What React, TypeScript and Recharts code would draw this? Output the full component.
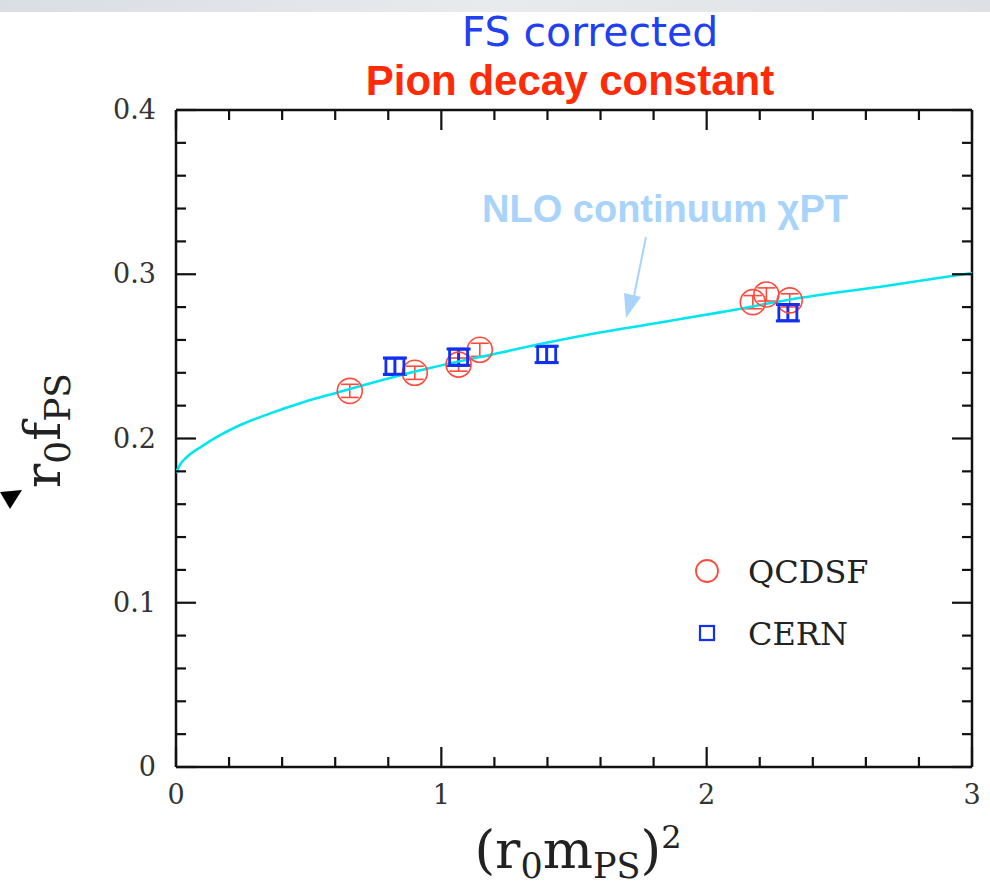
import React from "react";
import {
  ScatterChart,
  Scatter,
  XAxis,
  YAxis,
  ErrorBar,
  ReferenceLine,
  Legend,
} from "recharts";

// ---- data ----
const QCDSF_X = [0.655, 0.9, 1.065, 1.145, 2.174, 2.225, 2.313];
const QCDSF_Y = [0.229, 0.24, 0.245, 0.254, 0.283, 0.2877, 0.2841];
const QCDSF_ERR = [0.004, 0.004, 0.004, 0.004, 0.004, 0.004, 0.004];

const CERN_X = [0.825, 1.065, 1.397, 2.306];
const CERN_Y = [0.244, 0.2495, 0.2512, 0.2766];
const CERN_ERR = [0.005, 0.005, 0.005, 0.005];

// NLO continuum chiral fit curve
const CURVE_X = [0, 0.005, 0.015, 0.04, 0.1, 0.166, 0.23, 0.35, 0.48, 0.6, 0.89, 1.2, 1.5, 1.82, 2.05, 2.36, 2.68, 3.0];
const CURVE_Y = [0.179, 0.181, 0.184, 0.1886, 0.1955, 0.202, 0.2073, 0.215, 0.2221, 0.2276, 0.2403, 0.2515, 0.2616, 0.2705, 0.2768, 0.2858, 0.293, 0.3008];

const X_TICKS = [0, 0.2, 0.4, 0.6, 0.8, 1, 1.2, 1.4, 1.6, 1.8, 2, 2.2, 2.4, 2.6, 2.8, 3];
const Y_TICKS = [0, 0.02, 0.04, 0.06, 0.08, 0.1, 0.12, 0.14, 0.16, 0.18, 0.2, 0.22, 0.24, 0.26, 0.28, 0.3, 0.32, 0.34, 0.36, 0.38, 0.4];
const X_LABELS = ["0", "1", "2", "3"];
const Y_LABELS = ["0", "0.1", "0.2", "0.3", "0.4"];
const SERIES_ORDER = ["QCDSF", "CERN"];

const qcdsf = QCDSF_X.map((x, i) => ({ x, y: QCDSF_Y[i], err: QCDSF_ERR[i] }));
const cern = CERN_X.map((x, i) => ({ x, y: CERN_Y[i], err: CERN_ERR[i] }));
const curve = CURVE_X.map((x, i) => ({ x, y: CURVE_Y[i] }));

// ---- layout ----
const W = 990;
const H = 890;
const MARGIN = { top: 110, right: 18, bottom: 0, left: 0 };
const Y_AXIS_W = 176;
const X_AXIS_H = 123;
const PLOT_W = W - MARGIN.left - MARGIN.right - Y_AXIS_W;
const PLOT_H = H - MARGIN.top - MARGIN.bottom - X_AXIS_H;
const TICK_GAP_X = 16;
const TICK_GAP_Y = 18;
const MAJOR = 20;
const MINOR = 10;

const RED = "#ff4a3c";
const BLUE = "#1230f0";
const CYAN = "#00e6f0";
const FRAME = "#111";
const SERIF = "'DejaVu Serif', serif";

const isMajorX = (v: number) => Math.abs(v - Math.round(v)) < 1e-6;
const isMajorY = (v: number) => Math.abs(v * 10 - Math.round(v * 10)) < 1e-6;

const XTick = (props: any) => {
  const { x, y, payload } = props;
  const v = payload.value as number;
  const major = isMajorX(v);
  const len = major ? MAJOR : MINOR;
  const axisY = y - TICK_GAP_X;
  const topY = axisY - PLOT_H;
  const label = major ? X_LABELS[Math.round(v)] : null;
  return (
    <g>
      <line x1={x} x2={x} y1={axisY} y2={axisY - len} stroke={FRAME} strokeWidth={2.2} />
      <line x1={x} x2={x} y1={topY} y2={topY + len} stroke={FRAME} strokeWidth={2.2} />
      {label !== null && (
        <text x={x} y={y + 21} textAnchor="middle" fontFamily={SERIF} fontSize={27} fill="#333">
          {label}
        </text>
      )}
    </g>
  );
};

const YTick = (props: any) => {
  const { x, y, payload } = props;
  const v = payload.value as number;
  const major = isMajorY(v);
  const len = major ? MAJOR : MINOR;
  const axisX = x + TICK_GAP_Y;
  const rightX = axisX + PLOT_W;
  const label = major ? Y_LABELS[Math.round(v * 10)] : null;
  return (
    <g>
      <line x1={axisX} x2={axisX + len} y1={y} y2={y} stroke={FRAME} strokeWidth={2.2} />
      <line x1={rightX - len} x2={rightX} y1={y} y2={y} stroke={FRAME} strokeWidth={2.2} />
      {label !== null && (
        <text x={x - 2} y={y + 9} textAnchor="end" fontFamily={SERIF} fontSize={27} fill="#333">
          {label}
        </text>
      )}
    </g>
  );
};

const XLabel = (props: any) => {
  const vb = props.viewBox || {};
  const cx = vb.x + vb.width / 2 + 4;
  return (
    <text x={cx} y={vb.y + 101} textAnchor="middle" fontFamily={SERIF} fontSize={53} fill="#222">
      (r
      <tspan fontSize={35} dy={10}>0</tspan>
      <tspan dy={-10}>m</tspan>
      <tspan fontSize={35} dy={10}>PS</tspan>
      <tspan dy={-10}>)</tspan>
      <tspan fontSize={32} dy={-20}>2</tspan>
    </text>
  );
};

const YLabel = (props: any) => {
  const vb = props.viewBox || {};
  const cy = vb.y + vb.height / 2 - 8;
  const bx = 60;
  return (
    <text
      x={bx}
      y={cy}
      transform={`rotate(-90, ${bx}, ${cy})`}
      textAnchor="middle"
      fontFamily={SERIF}
      fontSize={51}
      fill="#222"
    >
      r
      <tspan fontSize={36} dy={10}>0</tspan>
      <tspan dy={-10}>f</tspan>
      <tspan fontSize={36} dy={10}>PS</tspan>
    </text>
  );
};

const QcdsfDot = (p: any) => (
  <circle cx={p.cx} cy={p.cy} r={12.5} fill="none" stroke={RED} strokeWidth={1.6} />
);
const CernDot = (p: any) => (
  <rect x={p.cx - 9} y={p.cy - 8} width={18} height={16} fill="none" stroke={BLUE} strokeWidth={2.8} />
);
const NoDot = () => <g />;

const LegendBox = (props: any) => {
  const items = SERIES_ORDER.map((name) =>
    (props.payload || []).find((e: any) => e.value === name)
  ).filter(Boolean);
  return (
    <svg width={220} height={130}>
      {items.map((e: any, i: number) => {
        const cy = 31 + i * 62;
        return (
          <g key={e.value}>
            {e.value === "QCDSF" ? (
              <circle cx={27} cy={cy} r={11} fill="none" stroke={RED} strokeWidth={1.8} />
            ) : (
              <rect x={20} y={cy - 7} width={14} height={14} fill="none" stroke={BLUE} strokeWidth={2.2} />
            )}
            <text x={68} y={cy + 12} fontFamily={SERIF} fontSize={32} fill="#222">
              {e.value}
            </text>
          </g>
        );
      })}
    </svg>
  );
};

export default function App() {
  return (
    <div style={{ position: "absolute", left: 0, top: 0, width: W, height: H, background: "#fff", overflow: "hidden" }}>
      <div
        style={{
          position: "absolute",
          left: 0,
          top: 0,
          width: W,
          height: 12,
          background: "linear-gradient(to right, #d9dee3, #e8ebee 50%, #dde1e5)",
        }}
      />
      <ScatterChart width={W} height={H} margin={MARGIN}>
        <XAxis
          type="number"
          dataKey="x"
          domain={[0, 3]}
          ticks={X_TICKS}
          interval={0}
          height={X_AXIS_H}
          tickSize={0}
          tickMargin={TICK_GAP_X}
          tickLine={false}
          axisLine={{ stroke: FRAME, strokeWidth: 2.5 }}
          tick={<XTick />}
          label={<XLabel />}
          allowDataOverflow
        />
        <YAxis
          type="number"
          dataKey="y"
          domain={[0, 0.4]}
          ticks={Y_TICKS}
          interval={0}
          width={Y_AXIS_W}
          tickSize={0}
          tickMargin={TICK_GAP_Y}
          tickLine={false}
          axisLine={{ stroke: FRAME, strokeWidth: 2.5 }}
          tick={<YTick />}
          label={<YLabel />}
          allowDataOverflow
        />
        <ReferenceLine y={0.4} stroke={FRAME} strokeWidth={2.5} />
        <ReferenceLine x={3} stroke={FRAME} strokeWidth={2.5} />
        <Scatter
          name="NLO"
          data={curve}
          line={{ stroke: CYAN, strokeWidth: 2.6 }}
          lineJointType="monotoneX"
          shape={NoDot}
          legendType="none"
          isAnimationActive={false}
        />
        <Scatter name="QCDSF" data={qcdsf} fill={RED} shape={QcdsfDot} isAnimationActive={false}>
          <ErrorBar dataKey="err" direction="y" width={9} stroke={RED} strokeWidth={1.6} />
        </Scatter>
        <Scatter name="CERN" data={cern} fill={BLUE} shape={CernDot} isAnimationActive={false}>
          <ErrorBar dataKey="err" direction="y" width={12} stroke={BLUE} strokeWidth={3} />
        </Scatter>
        <Legend
          layout="vertical"
          verticalAlign="middle"
          align="center"
          content={<LegendBox />}
          wrapperStyle={{ position: "absolute", left: 680, top: 540, width: 220, height: 130 }}
        />
      </ScatterChart>
      <svg
        width={W}
        height={H}
        style={{ position: "absolute", left: 0, top: 0, pointerEvents: "none" }}
      >
        <text x={590} y={46} textAnchor="middle" fontFamily="'DejaVu Sans', sans-serif" fontSize={41} fill="#2140f2">
          FS corrected
        </text>
        <text
          x={570}
          y={95}
          textAnchor="middle"
          fontFamily="'Liberation Sans', Arial, sans-serif"
          fontWeight="bold"
          fontSize={42}
          fill="#ff2a06"
        >
          Pion decay constant
        </text>
        <text
          x={665}
          y={222}
          textAnchor="middle"
          fontFamily="'Liberation Sans', Arial, sans-serif"
          fontWeight="bold"
          fontSize={38}
          fill="#a8d3fb"
        >
          NLO continuum χPT
        </text>
        <line x1={646} y1={237} x2={634} y2={296} stroke="#a8d3fb" strokeWidth={2} />
        <polygon points="626,318 624,293 641,297" fill="#a8d3fb" />
        <polygon points="0,492 22,490 10,509" fill="#000" />
      </svg>
    </div>
  );
}
